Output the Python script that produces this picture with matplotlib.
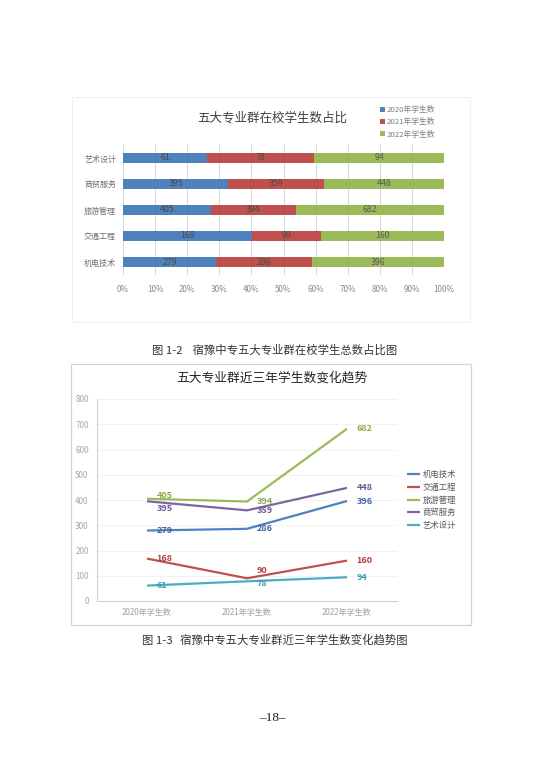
import matplotlib
matplotlib.use("Agg")
import matplotlib.pyplot as plt
from matplotlib.patches import Rectangle
import numpy as np

plt.rcParams['font.family'] = ['Noto Sans CJK SC', 'DejaVu Sans']

# ---------------- data ----------------
majors = ["机电技术", "交通工程", "旅游管理", "商贸服务", "艺术设计"]
years = ["2020年学生数", "2021年学生数", "2022年学生数"]
v2020 = [279, 168, 405, 395, 61]
v2021 = [286, 90, 394, 359, 78]
v2022 = [396, 160, 682, 448, 94]
pct_ticks = [0, 10, 20, 30, 40, 50, 60, 70, 80, 90, 100]
y_ticks = [0, 100, 200, 300, 400, 500, 600, 700, 800]

bar_colors = ["#4F81BD", "#C0504D", "#9BBB59"]
line_colors = ["#4F81BD", "#C0504D", "#9BBB59", "#8064A2", "#4BACC6"]
line_label_colors = ["#3C64A0", "#B0403D", "#8AAA48", "#6F5393", "#3A9BB5"]

W, H = 543, 768
fig = plt.figure(figsize=(W / 100, H / 100), dpi=100)
fig.patch.set_facecolor("white")


def fx(px):
    return px / W


def fy(py):
    return 1 - py / H


# chart frames
fig.patches.append(Rectangle((fx(72), fy(322)), fx(470) - fx(72), fy(97) - fy(322),
                             transform=fig.transFigure, fill=False, ec="#efefef", lw=0.8))
fig.patches.append(Rectangle((fx(71), fy(625)), fx(471) - fx(71), fy(364) - fy(625),
                             transform=fig.transFigure, fill=False, ec="#d4d4d4", lw=0.9))

# ---------------- top chart: 100% stacked bar ----------------
ax1 = fig.add_axes([fx(123), fy(275), fx(444) - fx(123), fy(145) - fy(275)])
order = ["艺术设计", "商贸服务", "旅游管理", "交通工程", "机电技术"]
idx = [majors.index(m) for m in order]
series = [np.array(v2020, float), np.array(v2021, float), np.array(v2022, float)]
tot = series[0] + series[1] + series[2]
ypos = np.arange(len(order))
left = np.zeros(len(order))
handles = []
for s, vals in enumerate(series):
    frac = np.array([vals[i] / tot[i] * 100 for i in idx])
    raw = [int(vals[i]) for i in idx]
    b = ax1.barh(ypos, frac, left=left, height=0.4, color=bar_colors[s], zorder=3)
    handles.append(b)
    for k in range(len(order)):
        ax1.text(left[k] + frac[k] / 2, ypos[k], str(raw[k]), ha="center", va="center",
                 fontsize=6.3, color="#595959" if s == 2 else "#4a4a4a", zorder=4)
    left = left + frac
ax1.set_xlim(0, 100)
ax1.set_ylim(4.5, -0.5)
ax1.set_yticks(ypos)
ax1.set_yticklabels(order, fontsize=5.8, color="#707070")
ax1.set_xticks(pct_ticks)
ax1.set_xticklabels([f"{t}%" for t in pct_ticks], fontsize=5.8, color="#8a8a8a")
ax1.tick_params(axis="both", length=0)
ax1.tick_params(axis="x", pad=7)
ax1.tick_params(axis="y", pad=5)
for sp in ax1.spines.values():
    sp.set_visible(False)
ax1.grid(axis="x", color="#d9d9d9", lw=0.7, zorder=0)
ax1.set_axisbelow(True)

fig.text(fx(272), fy(118), "五大专业群在校学生数占比", ha="center", va="center",
         fontsize=9, color="#404040")
fig.legend(handles, ["2020年学生数", "2021年学生数", "2022年学生数"],
           loc="upper left", bbox_to_anchor=(fx(380), fy(106)),
           frameon=False, fontsize=5.6, labelcolor="#808080",
           handlelength=0.6, handleheight=0.6, handletextpad=0.3,
           labelspacing=0.55, borderpad=0, borderaxespad=0)

fig.text(fx(275), fy(350), "图 1-2    宿豫中专五大专业群在校学生总数占比图", ha="center",
         va="center", fontsize=8.2, color="#333333")

# ---------------- bottom chart: line ----------------
ax2 = fig.add_axes([fx(97), fy(601), fx(397) - fx(97), fy(399) - fy(601)])
xs = np.arange(len(years))
data = [v2020, v2021, v2022]
lines = []
for m in range(len(majors)):
    vals = [data[y][m] for y in range(len(years))]
    ln, = ax2.plot(xs, vals, color=line_colors[m], lw=1.6, zorder=3,
                   solid_capstyle="butt")
    lines.append(ln)
# small vertical nudges (points) for labels that would otherwise sit on top of each other
nudge = {(3, 0): -5.5, (2, 0): 2.0, (1, 1): 5.5, (4, 1): -1.5}
for m in range(len(majors)):
    vals = [data[y][m] for y in range(len(years))]
    for x, v in zip(xs, vals):
        dy = nudge.get((m, int(x)), 0)
        ax2.annotate(str(v), (x, v), xytext=(7, dy), textcoords="offset points",
                     ha="left", va="center", fontsize=6.5, fontweight="bold",
                     color=line_label_colors[m], zorder=4)
ax2.set_xlim(-0.5, 2.5)
ax2.set_ylim(0, 800)
ax2.set_yticks(y_ticks)
ax2.set_yticklabels([str(t) for t in y_ticks], fontsize=5.8, color="#a6a6a6")
ax2.set_xticks(xs)
ax2.set_xticklabels(years, fontsize=5.8, color="#a0a0a0")
ax2.tick_params(axis="both", length=0)
ax2.tick_params(axis="y", pad=6)
ax2.tick_params(axis="x", pad=5)
for k in ["top", "right"]:
    ax2.spines[k].set_visible(False)
ax2.spines["left"].set_color("#d0d0d0")
ax2.spines["bottom"].set_color("#d0d0d0")
ax2.spines["left"].set_linewidth(0.8)
ax2.spines["bottom"].set_linewidth(0.8)
ax2.grid(axis="y", color="#f0f0f0", lw=0.6, zorder=0)
ax2.set_axisbelow(True)

fig.text(fx(272), fy(378), "五大专业群近三年学生数变化趋势", ha="center", va="center",
         fontsize=9.2, color="#262626")
fig.legend(lines, majors, loc="upper left", bbox_to_anchor=(fx(407), fy(470)),
           frameon=False, fontsize=6, labelcolor="#595959",
           handlelength=1.6, handletextpad=0.3, labelspacing=0.45,
           borderpad=0, borderaxespad=0)

fig.text(fx(275), fy(640), "图 1-3   宿豫中专五大专业群近三年学生数变化趋势图", ha="center",
         va="center", fontsize=8.2, color="#333333")

fig.text(fx(272), fy(718), "–18–", ha="center", va="center", fontsize=9.5,
         family=["Liberation Serif", "DejaVu Serif"], color="#222222")

fig.savefig("out.png", dpi=100, facecolor="white")
